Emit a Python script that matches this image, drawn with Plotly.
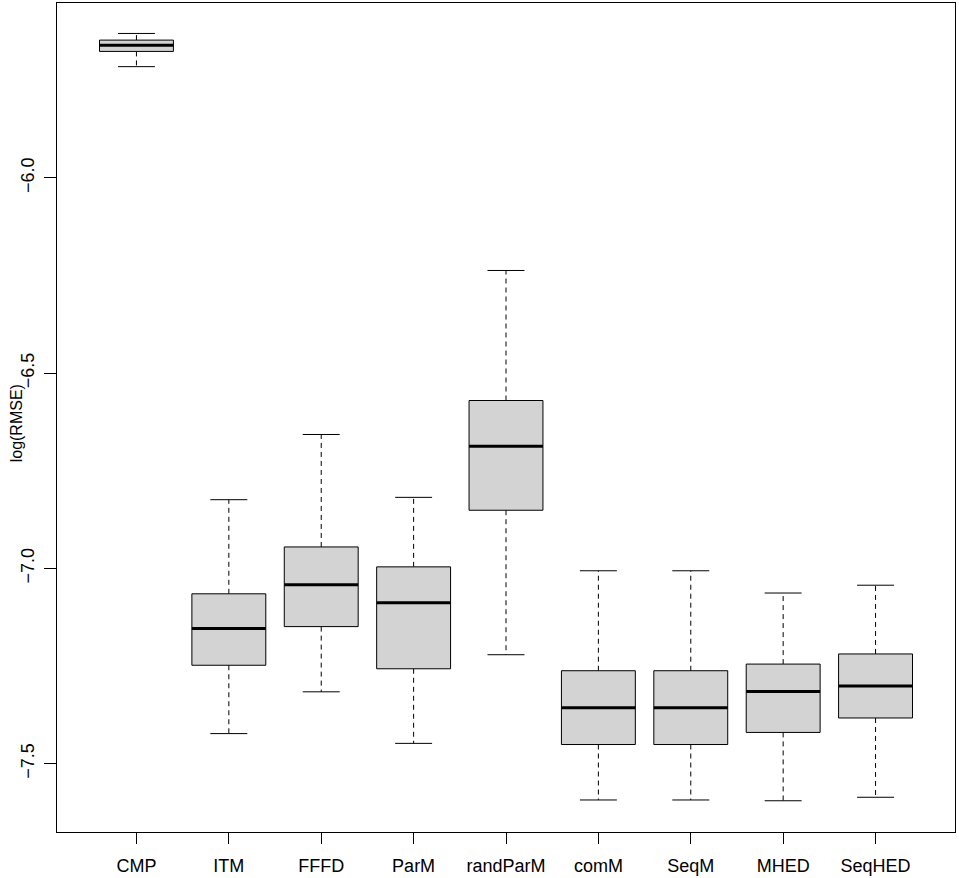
import plotly.graph_objects as go

methods = ["CMP", "ITM", "FFFD", "ParM", "randParM", "comM", "SeqM", "MHED", "SeqHED"]
lower_whisker = [-5.715, -7.423, -7.316, -7.448, -7.221, -7.593, -7.593, -7.595, -7.586]
q1 = [-5.676, -7.248, -7.149, -7.257, -6.851, -7.451, -7.451, -7.420, -7.383]
median = [-5.660, -7.154, -7.042, -7.088, -6.687, -7.357, -7.357, -7.315, -7.301]
q3 = [-5.647, -7.065, -6.945, -6.996, -6.570, -7.262, -7.262, -7.245, -7.219]
upper_whisker = [-5.630, -6.824, -6.657, -6.818, -6.237, -7.006, -7.006, -7.063, -7.043]

y_ticks = [-7.5, -7.0, -6.5, -6.0]
y_tick_labels = ["\u22127.5", "\u22127.0", "\u22126.5", "\u22126.0"]

half_box = 0.4
half_cap = 0.2
pos = list(range(1, len(methods) + 1))

bx, by = [], []
mx, my = [], []
wx, wy = [], []
cx, cy = [], []
for i, p in enumerate(pos):
    bx += [p - half_box, p + half_box, p + half_box, p - half_box, p - half_box, None]
    by += [q1[i], q1[i], q3[i], q3[i], q1[i], None]
    mx += [p - half_box, p + half_box, None]
    my += [median[i], median[i], None]
    wx += [p, p, None, p, p, None]
    wy += [q3[i], upper_whisker[i], None, q1[i], lower_whisker[i], None]
    cx += [p - half_cap, p + half_cap, None, p - half_cap, p + half_cap, None]
    cy += [upper_whisker[i], upper_whisker[i], None, lower_whisker[i], lower_whisker[i], None]

fig = go.Figure()
fig.add_trace(go.Scatter(x=wx, y=wy, mode="lines",
                         line=dict(color="black", width=1, dash="5px,4px"),
                         hoverinfo="skip", showlegend=False))
fig.add_trace(go.Scatter(x=cx, y=cy, mode="lines",
                         line=dict(color="black", width=1),
                         hoverinfo="skip", showlegend=False))
fig.add_trace(go.Scatter(x=bx, y=by, mode="lines", fill="toself",
                         fillcolor="#d3d3d3",
                         line=dict(color="black", width=1),
                         hoverinfo="skip", showlegend=False))
fig.add_trace(go.Scatter(x=mx, y=my, mode="lines",
                         line=dict(color="black", width=3),
                         hoverinfo="skip", showlegend=False))

font = dict(family="Liberation Sans, Arial, Helvetica, sans-serif", size=18, color="black")

fig.update_layout(
    width=959, height=878,
    margin=dict(l=57, r=4, t=3, b=46, autoexpand=False),
    paper_bgcolor="white", plot_bgcolor="white",
    font=font,
    xaxis=dict(range=[0.14, 9.86], tickmode="array", tickvals=pos, ticktext=methods,
               ticks="outside", ticklen=11, tickcolor="black", tickwidth=1,
               ticklabelstandoff=6, automargin=False,
               showline=True, mirror=True, linecolor="black", linewidth=1,
               showgrid=False, zeroline=False, tickfont=font),
    yaxis=dict(range=[-7.675, -5.552], tickmode="array", tickvals=y_ticks, ticktext=y_tick_labels,
               ticks="outside", ticklen=12, tickcolor="black", tickwidth=1, tickangle=-90,
               ticklabelstandoff=3, automargin=False,
               showline=True, mirror=True, linecolor="black", linewidth=1,
               showgrid=False, zeroline=False, tickfont=font),
    annotations=[dict(text="log(RMSE)", xref="paper", yref="paper", x=-0.045, y=0.4925,
                      xanchor="center", yanchor="middle", textangle=-90, showarrow=False,
                      font=dict(family=font["family"], size=16, color="black"))],
)

fig.write_html("out.html", config={"displayModeBar": False},
               post_script="document.body.style.margin='0px';")
